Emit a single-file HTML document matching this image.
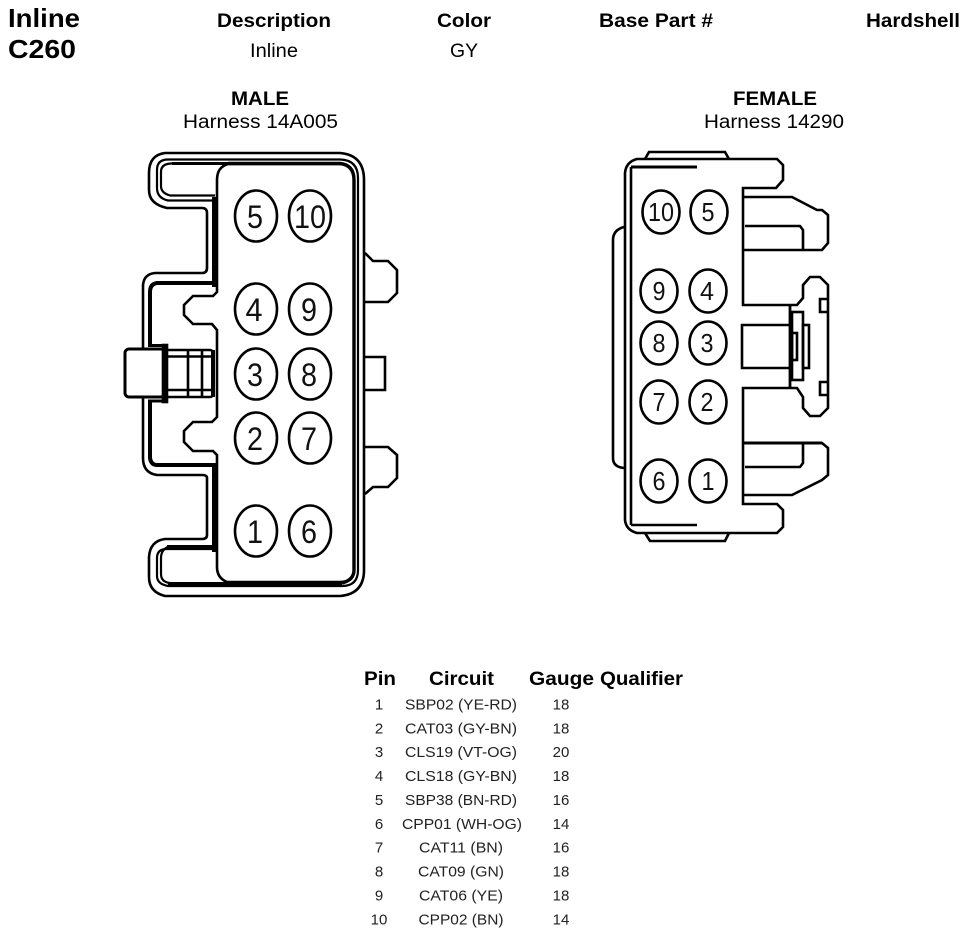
<!DOCTYPE html>
<html>
<head>
<meta charset="utf-8">
<style>
html,body{margin:0;padding:0;background:#fff;}
svg{display:block;}
text{font-family:"Liberation Sans",sans-serif;fill:#000;}
.b{font-weight:bold;}
.t{font-size:19px;}
.r{font-size:15px;fill:#222;text-anchor:middle;}
.m{font-size:32px;text-anchor:middle;fill:#111;}
.f{font-size:26px;text-anchor:middle;fill:#111;}
path,rect,ellipse,line{fill:none;stroke:#000;stroke-width:2.6;}
.w{fill:#fff;}
.k{stroke-width:4;}
</style>
</head>
<body>
<svg width="966" height="934" viewBox="0 0 966 934" xmlns="http://www.w3.org/2000/svg">
<!-- Header -->
<text x="8" y="27" class="b" font-size="26" textLength="72" lengthAdjust="spacingAndGlyphs">Inline</text>
<text x="8" y="58" class="b" font-size="26" textLength="68" lengthAdjust="spacingAndGlyphs">C260</text>
<text x="217" y="27" class="b t" textLength="114" lengthAdjust="spacingAndGlyphs">Description</text>
<text x="250" y="57" class="t" textLength="48" lengthAdjust="spacingAndGlyphs">Inline</text>
<text x="437" y="27" class="b t" textLength="54" lengthAdjust="spacingAndGlyphs">Color</text>
<text x="450" y="57" class="t" textLength="28" lengthAdjust="spacingAndGlyphs">GY</text>
<text x="599" y="27" class="b t" textLength="114" lengthAdjust="spacingAndGlyphs">Base Part #</text>
<text x="866" y="27" class="b t" textLength="94" lengthAdjust="spacingAndGlyphs">Hardshell</text>
<text x="231" y="105" class="b t" textLength="58" lengthAdjust="spacingAndGlyphs">MALE</text>
<text x="183" y="128" class="t" textLength="155" lengthAdjust="spacingAndGlyphs">Harness 14A005</text>
<text x="733" y="105" class="b t" textLength="84" lengthAdjust="spacingAndGlyphs">FEMALE</text>
<text x="704" y="128" class="t" textLength="140" lengthAdjust="spacingAndGlyphs">Harness 14290</text>

<!-- MALE connector: right tabs -->
<path d="M365 253 L373 261 H388 L397 270 V293 L388 302 H365"/>
<path d="M365 357 H385 V390 H365"/>
<path d="M365 447 H388 L397 455 V478 L388 487 H373 L365 494"/>
<!-- outer outline -->
<path d="M165 153 H340 Q364 155 364 180 V570 Q364 594 340 596 H165 Q149 592 149 577 V557 Q150 541 165 539 H202 Q207 539 207 535 V478 Q207 475 202 475 H157 Q143 473 143 458 V285 Q144 274 155 273 H202 Q207 273 207 268 V213 Q207 208 202 208 H167 Q149 204 149 190 V173 Q149 155 165 153 Z"/>
<!-- inner lines -->
<path style="stroke-width:2.2" d="M215 200.500 H168 Q157 198 157 188 V170 Q157 159.500 168 159.500 H340 Q358 160 358 178 V570 Q358 586 342 586 H168 Q157 584 157 576 V558 Q157 549 167 549 H215"/>
<path style="stroke-width:2.2" d="M215 195.500 H170 Q161 193 161 186 V172 Q161 163.500 172 163.500 H228"/>
<path style="stroke-width:3" d="M172 163.500 H228"/>
<path style="stroke-width:2.2" d="M170 546 Q161 549 161 558 V574 Q161 582 170 583"/>
<path class="k" d="M215 283 H157 Q150 284 150 292 V346"/>
<path class="k" d="M150 400 V458 Q151 465 157 465 H215"/>
<path style="stroke-width:6" d="M215 197 V287"/>
<path style="stroke-width:6" d="M215 463 V552"/>
<path style="stroke-width:5" d="M167 547.500 H215"/>
<path style="stroke-width:5" d="M168 584.500 H342"/>
<!-- inner body -->
<path class="w" d="M228 164 H340 Q354 165 354 180 V570 Q354 582 340 582 H227 Q217 578 217 567 V455 L213 451 H193 L184 442 V431 L193 422 H212 L217 417 V330 L212 324 H193 L184 315 V305 L193 296 H213 L217 292 V180 Q217 167 228 164 Z"/>
<path style="stroke-width:3.4" d="M228 163.500 H340 Q354 165 354 180 V570 Q354 580 342 583"/>
<!-- latch ribs -->
<rect class="w" x="165" y="350" width="48" height="47" rx="3"/>
<line x1="165" y1="356.500" x2="213" y2="356.500"/>
<line x1="165" y1="390" x2="213" y2="390"/>
<line x1="188" y1="350" x2="188" y2="397"/>
<line x1="202" y1="350" x2="202" y2="397"/>
<line x1="213" y1="350" x2="213" y2="397" style="stroke-width:4"/>
<rect class="w" x="125" y="349" width="40" height="48" rx="4" style="stroke-width:3"/>
<rect x="163" y="345" width="4" height="57" style="fill:#000"/>
<line x1="148" y1="345.500" x2="165" y2="345.500" style="stroke-width:3"/>
<line x1="148" y1="401" x2="165" y2="401" style="stroke-width:3"/>

<!-- MALE pins -->
<ellipse class="w" cx="256" cy="216" rx="21" ry="25.500"/><text class="m" x="255" y="228" textLength="16" lengthAdjust="spacingAndGlyphs">5</text>
<ellipse class="w" cx="310" cy="216" rx="21" ry="25.500"/><text class="m" x="310" y="228" textLength="32" lengthAdjust="spacingAndGlyphs">10</text>
<ellipse class="w" cx="256" cy="309" rx="21" ry="25.500"/><text class="m" x="254" y="321" textLength="17" lengthAdjust="spacingAndGlyphs">4</text>
<ellipse class="w" cx="310" cy="309" rx="21" ry="25.500"/><text class="m" x="309" y="321" textLength="16" lengthAdjust="spacingAndGlyphs">9</text>
<ellipse class="w" cx="256" cy="374" rx="21" ry="25.500"/><text class="m" x="255" y="386" textLength="16" lengthAdjust="spacingAndGlyphs">3</text>
<ellipse class="w" cx="310" cy="374" rx="21" ry="25.500"/><text class="m" x="309" y="386" textLength="16" lengthAdjust="spacingAndGlyphs">8</text>
<ellipse class="w" cx="256" cy="438" rx="21" ry="25.500"/><text class="m" x="255" y="450" textLength="16" lengthAdjust="spacingAndGlyphs">2</text>
<ellipse class="w" cx="310" cy="438" rx="21" ry="25.500"/><text class="m" x="309" y="450" textLength="16" lengthAdjust="spacingAndGlyphs">7</text>
<ellipse class="w" cx="256" cy="531" rx="21" ry="25.500"/><text class="m" x="255" y="543" textLength="16" lengthAdjust="spacingAndGlyphs">1</text>
<ellipse class="w" cx="310" cy="531" rx="21" ry="25.500"/><text class="m" x="309" y="543" textLength="16" lengthAdjust="spacingAndGlyphs">6</text>

<!-- FEMALE connector -->
<path d="M645 159 L649 152 H725 L729 159"/>
<path d="M645 533 L650 541 H725 L729 533"/>
<path d="M624 227 Q613 230 613 240 V458 Q613 467 624 468"/>
<path d="M637 159 H777 L783 165 V180 L776 188 H743 V305 H797 L803 298 V285 L810 277 H820 L828 285 V408 L820 416 H810 L803 408 V397 L797 388 H743 V504 H777 L783 510 V527 L777 533 H637 Q626 530 625 520 V173 Q626 162 637 159 Z"/>
<line x1="631" y1="167" x2="631" y2="525"/>
<line x1="631" y1="167" x2="697" y2="167" style="stroke-width:3"/>
<line x1="631" y1="525" x2="697" y2="525"/>
<path d="M743 197 H792 L817 210 H822 L828 215 V243 L822 250 H743"/>
<path d="M745 226 H800 L803 230 V249"/>
<path d="M743 443 H822 L828 448 V475 L822 480 L792 495 H743" />
<line x1="743" y1="443" x2="822" y2="443" style="stroke-width:3"/>
<path d="M745 467 H800 L803 463 V444"/>
<path d="M790 325 H742 V368 H790"/>
<line x1="790" y1="305" x2="790" y2="388" style="stroke-width:2.800"/>
<rect x="792" y="312" width="11" height="68"/>
<rect x="792" y="333" width="5" height="27"/>
<rect x="803" y="325" width="6" height="43"/>
<path d="M827 299 H820 V312 H827"/>
<path d="M827 382 H820 V395 H827"/>

<!-- FEMALE pins -->
<ellipse class="w" cx="661" cy="212" rx="18.500" ry="21.500"/><text class="f" x="661" y="221" textLength="26" lengthAdjust="spacingAndGlyphs">10</text>
<ellipse class="w" cx="709" cy="212" rx="18.500" ry="21.500"/><text class="f" x="708" y="221" textLength="13" lengthAdjust="spacingAndGlyphs">5</text>
<ellipse class="w" cx="659" cy="291" rx="18.500" ry="21.500"/><text class="f" x="659" y="300" textLength="13" lengthAdjust="spacingAndGlyphs">9</text>
<ellipse class="w" cx="708" cy="291" rx="18.500" ry="21.500"/><text class="f" x="707" y="300" textLength="14" lengthAdjust="spacingAndGlyphs">4</text>
<ellipse class="w" cx="659" cy="343" rx="18.500" ry="21.500"/><text class="f" x="659" y="352" textLength="13" lengthAdjust="spacingAndGlyphs">8</text>
<ellipse class="w" cx="708" cy="343" rx="18.500" ry="21.500"/><text class="f" x="707" y="352" textLength="13" lengthAdjust="spacingAndGlyphs">3</text>
<ellipse class="w" cx="659" cy="402" rx="18.500" ry="21.500"/><text class="f" x="659" y="411" textLength="13" lengthAdjust="spacingAndGlyphs">7</text>
<ellipse class="w" cx="708" cy="402" rx="18.500" ry="21.500"/><text class="f" x="707" y="411" textLength="13" lengthAdjust="spacingAndGlyphs">2</text>
<ellipse class="w" cx="659" cy="481" rx="18.500" ry="21.500"/><text class="f" x="659" y="490" textLength="13" lengthAdjust="spacingAndGlyphs">6</text>
<ellipse class="w" cx="708" cy="481" rx="18.500" ry="21.500"/><text class="f" x="708" y="490" textLength="13" lengthAdjust="spacingAndGlyphs">1</text>

<!-- Table -->
<text x="364" y="685" class="b t" textLength="32" lengthAdjust="spacingAndGlyphs">Pin</text>
<text x="429" y="685" class="b t" textLength="65" lengthAdjust="spacingAndGlyphs">Circuit</text>
<text x="529" y="685" class="b t" textLength="65" lengthAdjust="spacingAndGlyphs">Gauge</text>
<text x="600" y="685" class="b t" textLength="83" lengthAdjust="spacingAndGlyphs">Qualifier</text>

<text class="r" x="379" y="709.500">1</text><text class="r" x="461" y="709.500" textLength="112" lengthAdjust="spacingAndGlyphs">SBP02 (YE-RD)</text><text class="r" x="561" y="709.500">18</text>
<text class="r" x="379" y="733.500">2</text><text class="r" x="461" y="733.500" textLength="112" lengthAdjust="spacingAndGlyphs">CAT03 (GY-BN)</text><text class="r" x="561" y="733.500">18</text>
<text class="r" x="379" y="757">3</text><text class="r" x="461" y="757" textLength="112" lengthAdjust="spacingAndGlyphs">CLS19 (VT-OG)</text><text class="r" x="561" y="757">20</text>
<text class="r" x="379" y="781">4</text><text class="r" x="461" y="781" textLength="112" lengthAdjust="spacingAndGlyphs">CLS18 (GY-BN)</text><text class="r" x="561" y="781">18</text>
<text class="r" x="379" y="805">5</text><text class="r" x="461" y="805" textLength="112" lengthAdjust="spacingAndGlyphs">SBP38 (BN-RD)</text><text class="r" x="561" y="805">16</text>
<text class="r" x="379" y="829">6</text><text class="r" x="462" y="829" textLength="120" lengthAdjust="spacingAndGlyphs">CPP01 (WH-OG)</text><text class="r" x="561" y="829">14</text>
<text class="r" x="379" y="852.500">7</text><text class="r" x="461" y="852.500" textLength="84" lengthAdjust="spacingAndGlyphs">CAT11 (BN)</text><text class="r" x="561" y="852.500">16</text>
<text class="r" x="379" y="876.500">8</text><text class="r" x="461" y="876.500" textLength="86" lengthAdjust="spacingAndGlyphs">CAT09 (GN)</text><text class="r" x="561" y="876.500">18</text>
<text class="r" x="379" y="900.500">9</text><text class="r" x="461" y="900.500" textLength="84" lengthAdjust="spacingAndGlyphs">CAT06 (YE)</text><text class="r" x="561" y="900.500">18</text>
<text class="r" x="379" y="924.500">10</text><text class="r" x="461" y="924.500" textLength="85" lengthAdjust="spacingAndGlyphs">CPP02 (BN)</text><text class="r" x="561" y="924.500">14</text>
</svg>
</body>
</html>
